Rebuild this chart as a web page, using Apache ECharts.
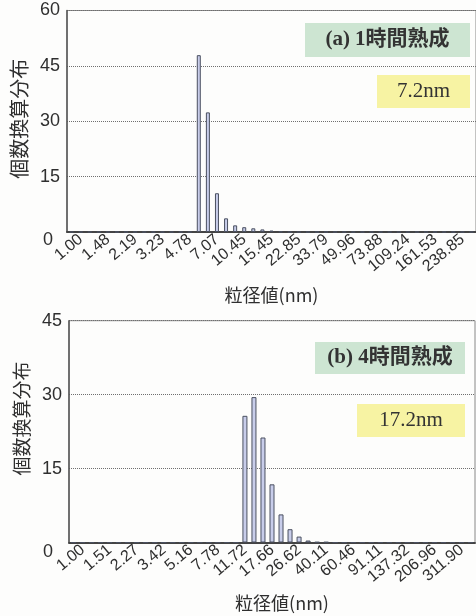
<!DOCTYPE html>
<html>
<head>
<meta charset="utf-8">
<script src="https://cdn.jsdelivr.net/npm/echarts@6/dist/echarts.min.js"></script>
<style>
  html, body { margin: 0; padding: 0; background: #fdfdfc; }
  #chart { width: 476px; height: 616px; }
</style>
</head>
<body>
<div id="chart"></div>
<script>
// Particle size bins (nm), log-spaced; every third bin is labelled on the axis.
const sizesA = ['1.00','1.14','1.30','1.48','1.68','1.92','2.19','2.49','2.84','3.23',
  '3.68','4.20','4.78','5.45','6.20','7.07','8.05','9.17','10.45','11.91',
  '13.57','15.45','17.61','20.06','22.85','26.03','29.66','33.79','38.50','43.86',
  '49.96','56.92','64.85','73.88','84.17','95.89','109.24','124.45','141.79','161.53',
  '184.03','209.65','238.85','272.11','310.01'];
const sizesB = ['1.00','1.15','1.31','1.51','1.73','1.98','2.27','2.60','2.99','3.42',
  '3.92','4.50','5.16','5.92','6.78','7.78','8.91','10.22','11.72','13.44',
  '15.40','17.66','20.25','23.22','26.62','30.52','34.99','40.11','45.99','52.73',
  '60.46','69.31','79.47','91.11','104.46','119.77','137.32','157.44','180.51','206.96',
  '237.28','272.04','311.90','357.60','409.99'];

// Number-based distribution (%) per bin
const countsA = [0,0,0,0,0,0,0,0,0,0,
  0,0,0,0,47.9,32.4,10.5,3.7,1.8,1.3,
  1.0,0.7,0.4,0.1,0,0,0,0,0,0,
  0,0,0,0,0,0,0,0,0,0,
  0,0,0,0,0];
const countsB = [0,0,0,0,0,0,0,0,0,0,
  0,0,0,0,0,0,0,0,0,25.7,
  29.5,21.3,11.8,5.7,2.7,1.2,0.4,0.1,0.1,0,
  0,0,0,0,0,0,0,0,0,0,
  0,0,0,0,0];

// Value-axis ranges
const yMaxA = 60, yMaxB = 45, yStep = 15;

// Panel captions and mean sizes
const captionA = '(a) 1時間熟成', meanA = '7.2nm';
const captionB = '(b) 4時間熟成', meanB = '17.2nm';
const xName = '粒径値(nm)';
const yName = '個数換算分布';

const sansFont = "'Liberation Sans', Arial, sans-serif";
const cjkFont = "'Noto Sans CJK JP', sans-serif";
const boxFont = "'Liberation Serif', 'Noto Sans CJK JP', serif";
const textColor = '#2f2f2f';
const barFill = '#c8cdea';
const barEdge = '#4a5060';
const greenBox = '#cde5d2';
const yellowBox = '#f7f3a3';

function xAxisFor(gridIndex, data, nameGap, nameShift) {
  return {
    type: 'category', gridIndex, data,
    boundaryGap: true,
    name: xName, nameLocation: 'middle', nameGap,
    nameTextStyle: { fontFamily: cjkFont, fontSize: 18, color: textColor, padding: [0, 0, 0, nameShift] },
    axisLine: { show: true, lineStyle: { color: '#444', width: 2 } },
    axisTick: { show: false },
    axisLabel: {
      interval: 2, rotate: 40, margin: 13,
      padding: [0, -12, 0, 0],
      fontFamily: sansFont, fontSize: 16, color: textColor
    },
    splitLine: { show: false }
  };
}

function yAxisFor(gridIndex, max, nameSize, nameShift, zeroPad) {
  return {
    type: 'value', gridIndex, min: 0, max, interval: yStep,
    name: yName, nameLocation: 'middle', nameGap: 37,
    nameTextStyle: { fontFamily: cjkFont, fontSize: nameSize, color: textColor, padding: [0, 0, 0, nameShift] },
    axisLine: { show: true, lineStyle: { color: '#555', width: 1.5 } },
    axisTick: { show: false },
    axisLabel: {
      margin: 7, fontFamily: sansFont, fontSize: 18, color: textColor,
      formatter: v => (v === 0 ? '{z|0}' : String(v)),
      rich: { z: { fontFamily: sansFont, fontSize: 18, color: textColor, padding: zeroPad } }
    },
    splitLine: { show: true, lineStyle: { color: '#6f6f6f', type: 'dotted', width: 1 } }
  };
}

function barSeries(index, data, width) {
  return {
    type: 'bar', xAxisIndex: index, yAxisIndex: index, data,
    barWidth: width, silent: true,
    itemStyle: { color: barFill, borderColor: barEdge, borderWidth: 1 }
  };
}

function captionBox(x, y, w, h, fill, text, weight) {
  return {
    type: 'group', silent: true,
    children: [
      { type: 'rect', shape: { x, y, width: w, height: h }, style: { fill } },
      { type: 'text', x: x + w / 2, y: y + h / 2,
        style: { text, fill: '#333', fontFamily: boxFont, fontSize: 21, fontWeight: weight,
                 align: 'center', verticalAlign: 'middle' } }
    ]
  };
}

const chart = echarts.init(document.getElementById('chart'), null, { renderer: 'canvas' });
chart.setOption({
  backgroundColor: '#fdfdfc',
  animation: false,
  grid: [
    { left: 67, top: 10.5, width: 411, height: 221.5, show: true, borderColor: '#888', borderWidth: 1, backgroundColor: 'transparent' },
    { left: 69, top: 320.7, width: 406, height: 221.8, show: true, borderColor: '#888', borderWidth: 1, backgroundColor: 'transparent' }
  ],
  xAxis: [
    xAxisFor(0, sizesA, 54, 0),
    xAxisFor(1, sizesB, 52, 20)
  ],
  yAxis: [
    yAxisFor(0, yMaxA, 20, 5, [16, 7, 0, 0]),
    yAxisFor(1, yMaxB, 19, 26, [20, 9, 0, 0])
  ],
  series: [
    barSeries(0, countsA, 4),
    barSeries(1, countsB, 5)
  ],
  graphic: [
    captionBox(305, 23, 165, 34, greenBox, captionA, 'bold'),
    captionBox(377, 75, 93, 33, yellowBox, meanA, 'normal'),
    captionBox(315, 342, 150, 32, greenBox, captionB, 'bold'),
    captionBox(357, 404, 108, 33, yellowBox, meanB, 'normal')
  ]
});
</script>
</body>
</html>
